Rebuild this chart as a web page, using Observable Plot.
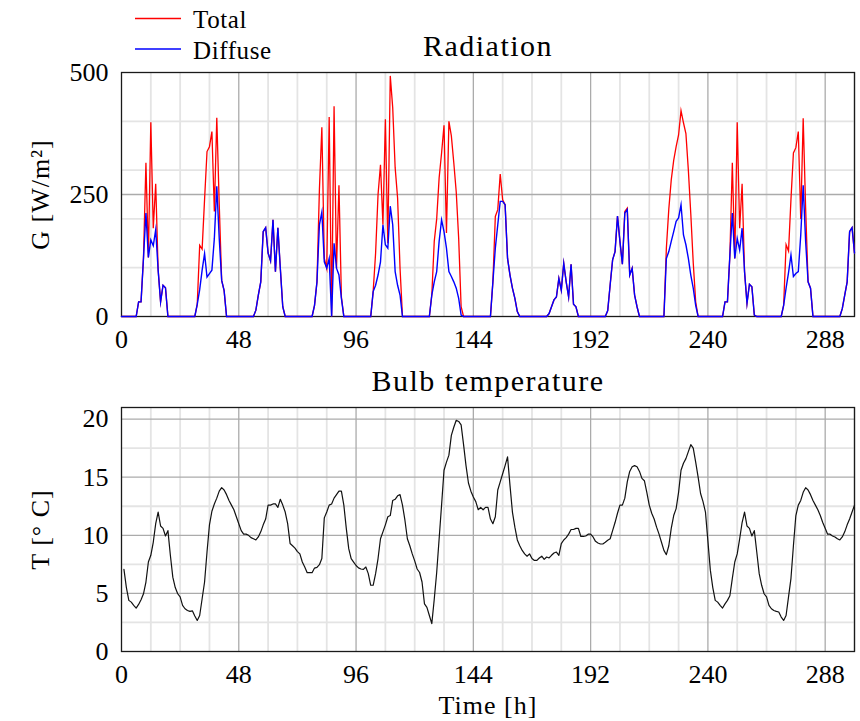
<!DOCTYPE html>
<html>
<head>
<meta charset="utf-8">
<script src="https://cdn.jsdelivr.net/npm/d3@7"></script>
<script src="https://cdn.jsdelivr.net/npm/@observablehq/plot@0.6"></script>
<style>
  html, body { margin: 0; padding: 0; background: #fff; }
  #chart { position: relative; width: 860px; height: 721px; overflow: hidden; background: #fff; }
  #topPanel { position: absolute; left: 0; top: 0; }
  #bottomPanel { position: absolute; left: 0; top: 360px; }
  #legend { position: absolute; left: 0; top: 0; pointer-events: none; }
  #chart svg, #chart svg text { font-family: "Liberation Serif", "Times New Roman", Tinos, "DejaVu Serif", "Noto Serif", serif !important; }
</style>
</head>
<body>
<div id="chart">
  <div id="topPanel"></div>
  <div id="bottomPanel"></div>
  <svg id="legend" width="300" height="70"></svg>
</div>
<script>
// ---------------- data ----------------
// Hourly radiation, hours 0..300 (one row per day)
const diffuse = [
  0,0,0,0,0,0,0,30,30,120,212,121,157,145,178,95,30,64,59,0,0,0,0,0,
  0,0,0,0,0,0,0,25,55,95,129,81,88,95,160,267,160,74,53,0,0,0,0,0,
  0,0,0,0,0,0,0,13,44,71,174,182,130,114,198,92,182,99,20,0,0,0,0,0,
  0,0,0,0,0,0,0,23,71,188,214,112,99,119,0,150,99,85,37,0,0,0,0,0,
  0,0,0,0,0,0,0,51,64,85,112,188,147,140,226,188,92,64,44,0,0,0,0,0,
  0,0,0,0,0,0,0,44,71,92,154,198,174,140,92,82,71,58,37,3,0,0,0,0,
  0,0,0,0,0,0,0,0,71,140,188,236,236,229,119,85,58,37,10,0,0,0,0,0,
  0,0,0,0,0,0,0,6,20,34,40,78,54,109,71,40,107,25,20,0,0,0,0,0,
  0,0,0,0,0,0,0,12,65,116,133,206,154,107,212,219,85,99,44,20,0,0,0,0,
  0,0,0,0,0,0,0,119,133,154,174,195,202,229,167,147,119,85,58,23,0,0,0,0,
  0,0,0,0,0,0,0,30,30,126,212,119,160,136,181,92,27,66,61,3,0,0,0,0,
  0,0,0,0,0,0,0,23,58,90,126,82,88,92,167,269,154,71,58,0,0,0,0,0,
  0,0,0,0,0,0,0,16,44,71,174,182,130
];
const total = [
  0,0,0,0,0,0,0,30,30,120,315,121,398,181,272,95,30,64,59,0,0,0,0,0,
  0,0,0,0,0,0,0,25,146,138,240,338,348,379,215,407,230,74,53,0,0,0,0,0,
  0,0,0,0,0,0,0,13,44,71,174,182,130,114,198,92,182,99,20,0,0,0,0,0,
  0,0,0,0,0,0,0,23,71,260,388,119,99,409,0,431,99,269,40,0,0,0,0,0,
  0,0,0,0,0,0,0,51,130,250,311,188,404,150,493,428,305,243,99,0,0,0,0,0,
  0,0,0,0,0,0,0,44,154,200,284,335,392,171,400,370,315,255,160,20,0,0,0,0,
  0,0,0,0,0,0,0,0,71,205,219,292,239,229,119,85,58,37,10,0,0,0,0,0,
  0,0,0,0,0,0,0,6,20,34,40,78,54,109,71,40,107,25,20,0,0,0,0,0,
  0,0,0,0,0,0,0,12,65,116,133,206,154,107,215,222,85,99,44,20,0,0,0,0,
  0,0,0,0,0,0,0,140,220,280,320,348,372,422,397,375,300,210,110,30,0,0,0,0,
  0,0,0,0,0,0,0,30,30,126,315,119,398,181,272,92,27,66,61,3,0,0,0,0,
  0,0,0,0,0,0,0,23,147,134,240,335,346,379,200,406,222,71,58,0,0,0,0,0,
  0,0,0,0,0,0,0,16,44,71,174,182,130
];
// Hourly bulb temperature, hours 1..300
const temperature = [
  7.07,5.5,4.4,4.25,3.97,3.74,4.05,4.45,4.97,5.98,7.7,8.28,9.4,11.0,12.0,10.8,10.6,9.94,10.4,8.28,6.4,5.5,4.97,4.7,
  3.97,3.68,3.53,3.45,3.5,3.05,2.67,3.1,4.54,5.98,8.56,10.9,12.07,12.7,13.2,13.8,14.1,13.9,13.5,13.0,12.6,12.2,11.6,11.0,
  10.4,10.1,10.1,10.0,9.8,9.7,9.6,9.86,10.3,10.9,11.4,12.6,12.6,12.7,12.7,12.4,13.1,12.6,12.0,11.0,9.3,9.1,8.9,8.6,
  8.4,7.7,7.27,6.78,6.78,6.78,7.18,7.24,7.47,8.0,11.5,12.0,12.6,12.7,13.2,13.5,13.8,13.8,12.6,10.6,8.85,8.0,7.7,7.4,
  7.2,7.1,7.07,7.27,6.7,5.7,5.7,6.7,8.0,9.7,10.3,10.9,11.6,11.7,13.0,13.1,13.4,13.5,12.6,11.3,9.7,9.1,8.4,7.8,
  7.1,6.8,5.98,4.1,3.8,3.1,2.4,4.5,6.8,9.7,12.6,15.6,16.3,16.9,18.6,19.3,19.9,19.8,19.5,17.8,16.0,14.5,13.8,13.3,
  12.9,12.2,12.4,12.2,12.4,12.4,11.4,11.0,11.6,13.9,14.6,15.3,16.0,16.75,14.3,12.0,10.7,9.6,9.1,8.7,8.4,8.2,8.4,8.0,
  7.84,7.84,8.05,8.2,7.93,8.13,8.05,8.28,8.48,8.56,8.28,9.28,9.6,9.8,10.1,10.5,10.5,10.6,10.6,9.9,9.9,9.94,10.1,10.1,
  9.86,9.48,9.34,9.25,9.25,9.4,9.57,9.7,10.4,11.1,11.9,12.6,12.6,13.2,14.6,15.5,15.9,16.0,15.9,15.5,14.9,14.7,13.7,12.6,
  11.9,11.4,10.7,10.1,9.4,8.7,8.33,9.1,10.6,11.7,12.3,13.7,15.6,16.2,16.6,17.2,17.8,17.5,16.3,15.0,13.6,12.9,12.0,9.5,
  7.0,5.5,4.4,4.25,3.97,3.74,4.1,4.4,4.8,6.3,7.7,8.4,9.7,11.1,12.0,10.8,10.6,9.94,10.4,8.56,6.7,5.7,4.97,4.7,
  3.97,3.68,3.53,3.45,3.4,2.96,2.67,3.1,4.7,6.3,9.1,11.7,12.6,13.0,13.7,14.1,13.9,13.5,13.0,12.6,12.2,11.7,11.1,10.6,
  10.1,10.1,9.94,9.86,9.7,9.6,9.86,10.3,10.9,11.4,12.0,12.6
];
const radHourStart = 0;   // first hour of the radiation series
const tempHourStart = 1;  // first hour of the temperature series

// axes / grid
const xTicks = [0, 48, 96, 144, 192, 240, 288];
const xMinorTicks = [12, 24, 36, 60, 72, 84, 108, 120, 132, 156, 168, 180, 204, 216, 228, 252, 264, 276, 300];
const radTicks = [0, 250, 500];
const radMinorTicks = [100, 200, 300, 400];
const tempTicks = [0, 5, 10, 15, 20];
const tempMinorTicks = [2.5, 7.5, 12.5, 17.5];

const titles = ["Radiation", "Bulb temperature"];
const yLabels = ["G [W/m²]", "T [° C]"];
const xLabel = "Time [h]";
const seriesNames = ["Total", "Diffuse"];
const seriesColors = ["#ff0000", "#0000ff"];

// ---------------- tables ----------------
const rad = diffuse.map((d, i) => ({hour: radHourStart + i, diffuse: d, total: total[i]}));
const temp = temperature.map((t, i) => ({hour: tempHourStart + i, temp: t}));

const FONT = '"Liberation Serif", "Times New Roman", Tinos, "DejaVu Serif", serif';
const minorStyle = {stroke: "#e4e4e4", strokeWidth: 1.8};
const majorStyle = {stroke: "#ababab", strokeWidth: 1.3};

const topPlot = Plot.plot({
  width: 860, height: 360,
  marginLeft: 121, marginRight: 6, marginTop: 72, marginBottom: 44,
  style: {fontFamily: FONT, fontSize: "26px", background: "white", color: "black", overflow: "visible"},
  x: {domain: [0, 300], ticks: xTicks, tickSize: 0, tickPadding: 13, label: null},
  y: {domain: [0, 500], ticks: radTicks, tickSize: 0, tickPadding: 13, label: null},
  marks: [
    Plot.ruleX(xMinorTicks, minorStyle),
    Plot.ruleY(radMinorTicks, minorStyle),
    Plot.ruleX(xTicks.filter(d => d > 0), majorStyle),
    Plot.ruleY([radTicks[1]], majorStyle),
    Plot.frame({stroke: "#1a1a1a", strokeWidth: 1.3}),
    Plot.line(rad, {x: "hour", y: "total", stroke: seriesColors[0], strokeWidth: 1.3, strokeLinejoin: "miter", strokeMiterlimit: 10}),
    Plot.line(rad, {x: "hour", y: "diffuse", stroke: seriesColors[1], strokeWidth: 1.4, strokeLinejoin: "miter", strokeMiterlimit: 10}),
    Plot.text([titles[0]], {text: d => d, frameAnchor: "top", dy: -17, lineAnchor: "bottom", textAnchor: "middle", fontSize: 30}),
    Plot.text([yLabels[0]], {text: d => d, frameAnchor: "left", dx: -73, rotate: -90, lineAnchor: "bottom", textAnchor: "middle", fontSize: 26})
  ]
});

const bottomPlot = Plot.plot({
  width: 860, height: 361,
  marginLeft: 121, marginRight: 6, marginTop: 47, marginBottom: 70,
  style: {fontFamily: FONT, fontSize: "26px", background: "white", color: "black", overflow: "visible"},
  x: {domain: [0, 300], ticks: xTicks, tickSize: 0, tickPadding: 13, label: null},
  y: {domain: [0, 21], ticks: tempTicks, tickSize: 0, tickPadding: 13, label: null},
  marks: [
    Plot.ruleX(xMinorTicks, minorStyle),
    Plot.ruleY(tempMinorTicks, minorStyle),
    Plot.ruleX(xTicks.filter(d => d > 0), majorStyle),
    Plot.ruleY(tempTicks.filter(d => d > 0), majorStyle),
    Plot.frame({stroke: "#1a1a1a", strokeWidth: 1.3}),
    Plot.line(temp, {x: "hour", y: "temp", stroke: "#111", strokeWidth: 1.2}),
    Plot.text([titles[1]], {text: d => d, frameAnchor: "top", dy: -17, lineAnchor: "bottom", textAnchor: "middle", fontSize: 30}),
    Plot.text([yLabels[1]], {text: d => d, frameAnchor: "left", dx: -73, rotate: -90, lineAnchor: "bottom", textAnchor: "middle", fontSize: 26}),
    Plot.text([xLabel], {text: d => d, frameAnchor: "bottom", dy: 62, lineAnchor: "bottom", textAnchor: "middle", fontSize: 26})
  ]
});

document.getElementById("topPanel").appendChild(topPlot);
document.getElementById("bottomPanel").appendChild(bottomPlot);

// letter spacing to approximate the wider Computer Modern glyphs
for (const svg of [topPlot, bottomPlot]) {
  d3.select(svg).selectAll("text").each(function() {
    const t = this.textContent;
    this.style.fontFamily = FONT;
    if (titles.includes(t)) this.style.letterSpacing = "1.5px";
    else if (yLabels.includes(t) || t === xLabel) this.style.letterSpacing = "1px";
  });
}

// legend (top-left)
const legend = d3.select("#legend");
seriesNames.forEach((name, i) => {
  const y = 18.5 + i * 30.5;
  legend.append("line").attr("x1", 135).attr("x2", 181).attr("y1", y).attr("y2", y)
    .attr("stroke", seriesColors[i]).attr("stroke-width", 1.4);
  legend.append("text").attr("x", 193).attr("y", y + 9.5)
    .attr("font-size", 25).attr("fill", "black").style("font-family", FONT)
    .style("letter-spacing", "0.6px").text(name);
});
</script>
</body>
</html>
